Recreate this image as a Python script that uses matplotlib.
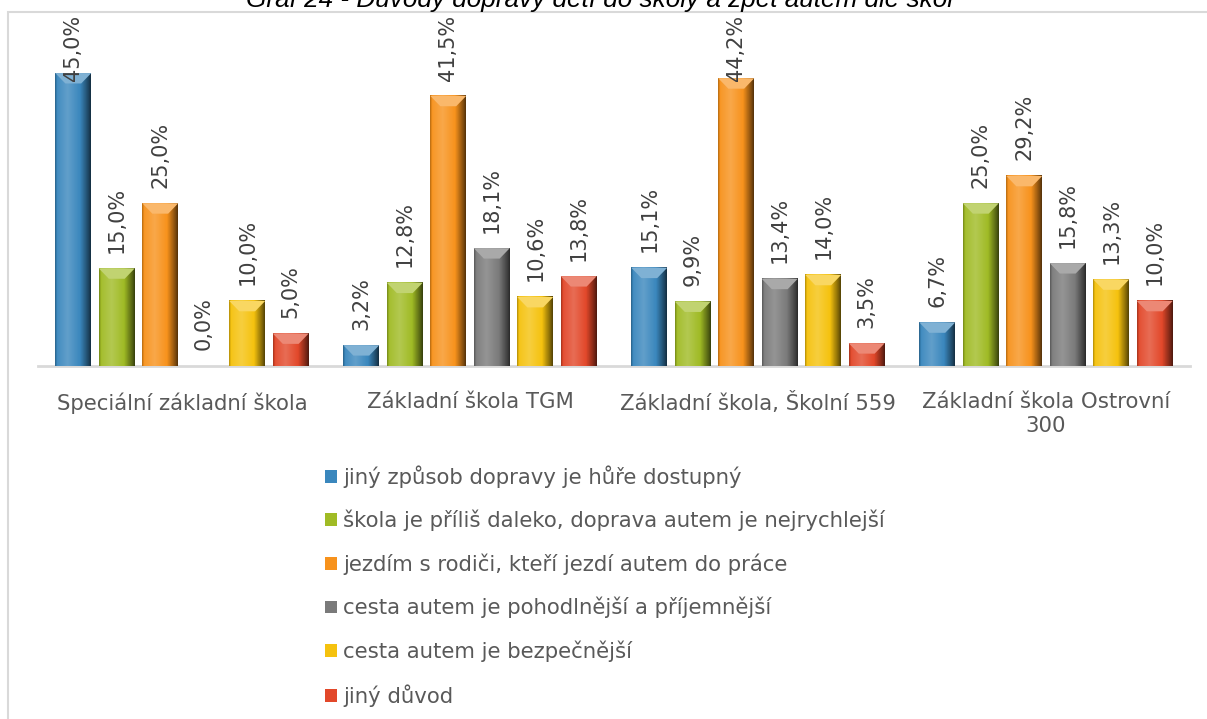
import numpy as np
import matplotlib.pyplot as plt
from matplotlib.patches import Rectangle
from matplotlib.colors import to_rgb

# === Data ===
schools = ["Speciální základní škola", "Základní škola TGM",
           "Základní škola, Školní 559", "Základní škola Ostrovní\n300"]
reasons = ["jiný způsob dopravy je hůře dostupný",
           "škola je příliš daleko, doprava autem je nejrychlejší",
           "jezdím s rodiči, kteří jezdí autem do práce",
           "cesta autem je pohodlnější a příjemnější",
           "cesta autem je bezpečnější",
           "jiný důvod"]
dostupny = [45.0, 3.2, 15.1, 6.7]
daleko = [15.0, 12.8, 9.9, 25.0]
rodice = [25.0, 41.5, 44.2, 29.2]
pohodli = [0.0, 18.1, 13.4, 15.8]
bezpeci = [10.0, 10.6, 14.0, 13.3]
jiny = [5.0, 13.8, 3.5, 10.0]
series = [dostupny, daleko, rodice, pohodli, bezpeci, jiny]

colors = ["#3a87bd", "#a0bb25", "#f7921c", "#7a7a7a", "#f5c20e", "#e2482a"]
title = "Graf 24 - Důvody dopravy dětí do školy a zpět autem dle škol"

# === Figure ===
W, H = 1207, 719
fig = plt.figure(figsize=(W / 100, H / 100), dpi=100)

# light frame around the chart
fig.patches.append(Rectangle((8 / W, -0.05), 1.1, 1 - 12 / H + 0.05,
                             transform=fig.transFigure, fill=False,
                             ec="#d9d9d9", lw=1.5))

fig.text(0.497, 1 - 7 / H, title, ha="center", va="baseline",
         style="italic", family="Liberation Sans", fontsize=18.8, color="black")

ymax = 52
ax = fig.add_axes([38 / W, 1 - 366 / H, (1190 - 38) / W, ymax * 6.51 / H])
ax.set_xlim(-0.5, 3.5)
ax.set_ylim(0, ymax)

# horizontal shading profile of each bar (fake bevel look)
t = np.linspace(0, 1, 60)
shade = np.interp(t, [0, 0.06, 0.35, 0.7, 0.92, 1.0],
                  [0.75, 1.05, 1.2, 1.0, 0.55, 0.35])

width = 0.125
step = 0.151
x = np.arange(len(schools))
fs = 15.3
handles = []
for i, (vals, col) in enumerate(zip(series, colors)):
    pos = x + (i - 2.5) * step
    bars = ax.bar(pos, vals, width, color=col, zorder=2, label=reasons[i])
    handles.append(bars)
    rgb = np.array(to_rgb(col))
    img = np.clip(shade[:, None] * rgb[None, :], 0, 1)
    img = np.clip(np.where(shade[:, None] > 1, rgb + (shade[:, None] - 1) * (1 - rgb), img), 0, 1)
    for b in bars:
        h = b.get_height()
        if h <= 0:
            continue
        x0 = b.get_x()
        ax.imshow(img[None, :, :], extent=(x0, x0 + width, 0, h),
                  aspect="auto", zorder=3, interpolation="bilinear")
        # lighter bevel on top
        bev = min(1.6, h * 0.5)
        ax.fill([x0, x0 + width, x0 + width * 0.72, x0 + width * 0.28],
                [h, h, h - bev, h - bev],
                color=tuple(rgb + (1 - rgb) * 0.35), zorder=4, lw=0)
    for p, v in zip(pos, vals):
        ax.text(p, min(v + 2.4, 43.8), f"{v:.1f}%".replace(".", ","),
                rotation=90, ha="center", va="bottom",
                fontsize=15, color="#404040", zorder=5)

ax.set_xticks(x)
ax.set_xticklabels(schools, fontsize=fs, color="#595959", linespacing=1.25)
ax.tick_params(axis="x", length=0, pad=19)
ax.set_yticks([])
for s in ["top", "right", "left"]:
    ax.spines[s].set_visible(False)
ax.spines["bottom"].set_color("#d9d9d9")
ax.spines["bottom"].set_linewidth(2)
ax.patch.set_alpha(0)

fig.legend(handles=handles, labels=reasons, loc="upper left",
           bbox_to_anchor=(325 / W, 1 - 465 / H), frameon=False,
           fontsize=fs, labelcolor="#595959", handlelength=0.55,
           handleheight=0.55, handletextpad=0.3, labelspacing=1.04,
           borderpad=0, borderaxespad=0)

fig.savefig("out.png", dpi=100)
